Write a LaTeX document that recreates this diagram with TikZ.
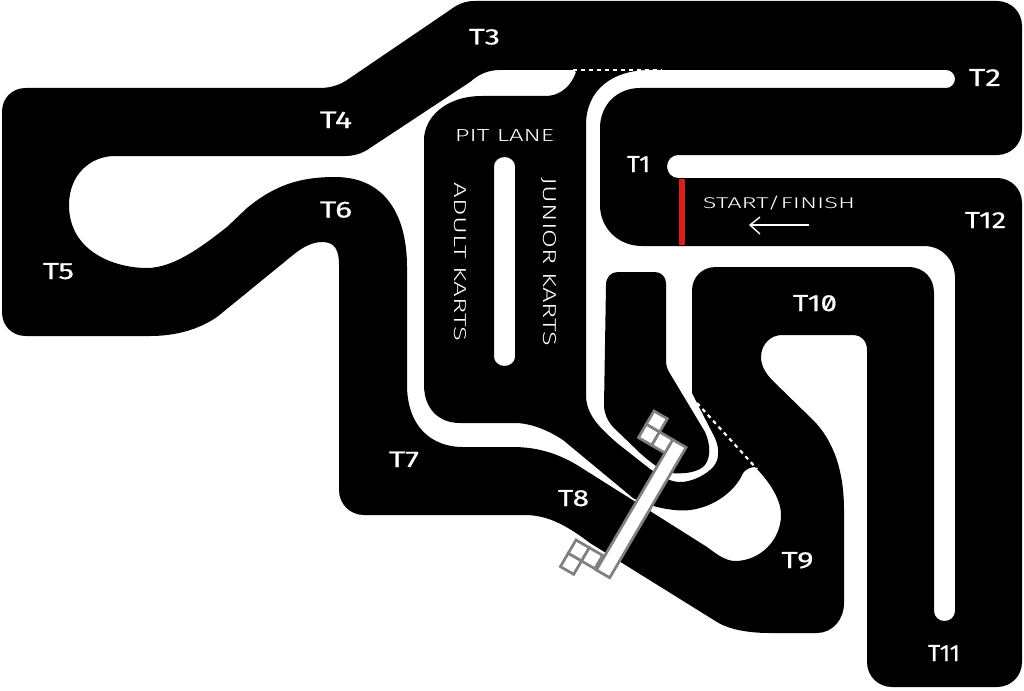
\documentclass[tikz,border=0pt]{standalone}
\usepackage{fontspec}
\usepackage{graphicx}
\newfontfamily\tlabfont{Fira Sans}[Numbers=SlashedZero,FakeBold=0.6]
\newfontfamily\thinlabfont{Fira Sans Light}
\newcommand{\lab}[3]{\resizebox{#1pt}{#2pt}{\tlabfont #3}}
\newcommand{\thinlab}[3]{\resizebox{#1pt}{#2pt}{\thinlabfont #3}}
\definecolor{bridgegrey}{HTML}{808080}
\definecolor{startred}{HTML}{DA1F1F}
\tikzset{
  label text/.style={text=white,inner sep=0pt,outer sep=0pt,anchor=base},
  bridgepart/.style={fill=white,draw=bridgegrey,line width=2.7pt,line join=miter},
  dashline/.style={draw=white,line width=2.2pt,dash pattern=on 4pt off 4pt},
}
\begin{document}
\begin{tikzpicture}[x=1pt,y=-1pt]
\useasboundingbox (0,0) rectangle (1024,690);
\fill[white] (0,0) rectangle (1024,690);
% track surface: outer contour, holes by even-odd rule
\fill[black,even odd rule]
 % outer contour
 (475,1) -- (997,1) .. controls (1011,1) and (1022,12) .. (1022,26)
 -- (1022,130) .. controls (1022,144) and (1011,155) .. (997,155)
 -- (678,155) .. controls (672,155) and (667,160) .. (667,166.5)
 .. controls (667,173) and (672,178) .. (678,178)
 -- (997,178) .. controls (1011,178) and (1022,189) .. (1022,203)
 -- (1022,662) .. controls (1022,676) and (1011,687) .. (997,687)
 -- (892,687) .. controls (878,687) and (867,676) .. (867,662)
 -- (867,350) .. controls (867,341) and (861,335) .. (854,335)
 -- (782,335) .. controls (770,335) and (761,345) .. (761,357)
 .. controls (761,366) and (766,374) .. (773,381)
 -- (813,420) .. controls (833,440) and (844,470) .. (844,510)
 -- (844,603) .. controls (844,620) and (832,633) .. (817,633)
 -- (770,633) .. controls (750,633) and (730,630) .. (717,622)
 -- (590,543) .. controls (570,528) and (550,515) .. (525,515)
 -- (364,515) .. controls (350,515) and (339,504) .. (339,490)
 -- (339,265) .. controls (339,250) and (335,242) .. (322,242)
 .. controls (310,242) and (299,250) .. (293,255)
 -- (217,317) .. controls (195,332) and (170,336) .. (150,336)
 -- (26,336) .. controls (12,336) and (2,326) .. (2,312)
 -- (2,112) .. controls (2,98) and (12,88) .. (26,88)
 -- (320,88) .. controls (332,88) and (342,84) .. (350,78)
 -- (450,10) .. controls (458,4) and (465,1) .. (475,1) -- cycle
 % loop, channel, wedge, leaf
 (115,156) -- (345,156) .. controls (355,156) and (363,153) .. (370,148)
 -- (470,82) .. controls (478,75) and (487,70) .. (500,70)
 -- (573,70) -- (576,72) .. controls (572,84) and (562,96) .. (545,96)
 -- (482,96) .. controls (445,96) and (424,118) .. (424,140)
 -- (424,385) .. controls (424,408) and (438,423) .. (460,423)
 -- (515,423) .. controls (530,423) and (548,430) .. (563,440)
 -- (633,498) .. controls (650,507) and (675,512) .. (690,510)
 .. controls (715,507) and (736,490) .. (743,473)
 .. controls (746,469) and (751,467) .. (755,467)
 .. controls (766,478) and (781,497) .. (781,515)
 .. controls (781,540) and (760,561) .. (735,561)
 .. controls (725,561) and (715,553) .. (707,547)
 -- (577,465) .. controls (560,455) and (540,447) .. (513,447)
 -- (463,447) .. controls (430,447) and (407,425) .. (407,385)
 -- (407,267) .. controls (407,215) and (385,177) .. (335,177)
 .. controls (300,177) and (275,185) .. (247,208)
 -- (227,227) .. controls (205,244) and (175,268) .. (147,268)
 .. controls (115,268) and (69,252) .. (69,205)
 .. controls (69,175) and (90,156) .. (115,156) -- cycle
 % pit side road, pit-straight slot and T11 slot
 (650,70) -- (946,70) .. controls (951,70) and (955,74) .. (955,79)
 .. controls (955,84) and (951,88) .. (946,88)
 -- (640,88) .. controls (617,88) and (600,105) .. (600,128)
 -- (600,205) .. controls (600,228) and (618,246) .. (642,246)
 -- (924,246) .. controls (942,246) and (955,260) .. (955,278)
 -- (955,611) .. controls (955,617) and (950,621) .. (944.5,621)
 .. controls (939,621) and (934,617) .. (934,611)
 -- (934,293) .. controls (934,278) and (924,267) .. (908,267)
 -- (716,267) .. controls (702,267) and (692,277) .. (692,291)
 -- (692,393) -- (697,403)
 -- (715,438) .. controls (720,450) and (720,462) .. (710,470)
 .. controls (702,477) and (690,482) .. (680,482)
 .. controls (670,482) and (660,476) .. (650,469)
 -- (617,443) .. controls (600,428) and (586,415) .. (586,395)
 -- (586,125) .. controls (586,90) and (612,70) .. (650,70) -- cycle
 % middle block
 (606,285) .. controls (606,277) and (611,272) .. (618,272)
 -- (655,272) .. controls (661,272) and (666,277) .. (666,283)
 -- (666,360) .. controls (666,365) and (667,368) .. (669,372)
 -- (705,432) .. controls (711,445) and (711,460) .. (703,467)
 .. controls (695,473) and (683,474) .. (670,473)
 .. controls (660,470) and (650,462) .. (640,453)
 -- (613,427) .. controls (607,420) and (604,413) .. (604,405) -- cycle
 % pit divider
 (494,166) .. controls (494,161) and (499,157) .. (504.5,157)
 .. controls (510,157) and (515,161) .. (515,166)
 -- (515,357) .. controls (515,362) and (510,366) .. (504.5,366)
 .. controls (499,366) and (494,362) .. (494,357) -- cycle;
% dashed lines
\coordinate (dashAstart) at (573,70);
\coordinate (dashAend) at (662,70);
\coordinate (dashBstart) at (697,403);
\coordinate (dashBend) at (757,469);
\draw[dashline] (dashAstart) -- (dashAend);
\draw[dashline] (dashBstart) -- (dashBend);
% start line
\coordinate (redtop) at (682,179);
\coordinate (redbot) at (682,245);
\draw[startred,line width=5.5pt] (redtop) -- (redbot);
% direction arrow
\coordinate (arrowtail) at (809,225);
\coordinate (arrowtip) at (750,225);
\coordinate (arrowwa) at (760,217);
\coordinate (arrowwb) at (760,234);
\draw[white,line width=1.4pt] (arrowtail) -- (arrowtip);
\draw[white,line width=1.4pt,line join=miter] (arrowwa) -- (arrowtip) -- (arrowwb);
% bridge
\draw[bridgepart] (654,411) -- (667.3,418.7) -- (659.5,432) -- (646.2,424.3) -- cycle;
\draw[bridgepart] (646.2,424.3) -- (659.5,432) -- (651.7,445.3) -- (638.4,437.6) -- cycle;
\draw[bridgepart] (659.5,432) -- (672.8,439.7) -- (665,453) -- (651.7,445.3) -- cycle;
\draw[bridgepart] (576,540) -- (589.3,547.7) -- (581.5,561) -- (568.2,553.3) -- cycle;
\draw[bridgepart] (568.2,553.3) -- (581.5,561) -- (573.7,574.3) -- (560.4,566.6) -- cycle;
\draw[bridgepart] (589.3,547.7) -- (602.6,555.4) -- (594.8,568.7) -- (581.5,561) -- cycle;
\draw[bridgepart] (672.8,439.7) -- (686.1,447.4) -- (609.7,577.7) -- (596.4,570) -- cycle;
% labels
\node[label text] (t1) at (638.5,172) {\lab{23}{16}{T1}};
\node[label text] (t2) at (985,86) {\lab{32}{17}{T2}};
\node[label text] (t3) at (484.5,44.5) {\lab{31}{15.5}{T3}};
\node[label text] (t4) at (336,128) {\lab{32}{16.5}{T4}};
\node[label text] (t5) at (58.5,279) {\lab{31}{16}{T5}};
\node[label text] (t6) at (336,217.5) {\lab{32}{16}{T6}};
\node[label text] (t7) at (404,467) {\lab{30}{15.5}{T7}};
\node[label text] (t8) at (573.5,506) {\lab{31}{16}{T8}};
\node[label text] (t9) at (797.5,568) {\lab{32}{16}{T9}};
\node[label text] (t10) at (815,311) {\lab{44}{16}{T10}};
\node[label text] (t11) at (944,661) {\lab{32}{16}{T11}};
\node[label text] (t12) at (985.5,228) {\lab{41}{16}{T12}};
\node[label text] (pit) at (504.5,141) {\thinlab{99}{12}{PIT LANE}};
\node[label text] (sf) at (779,208) {\thinlab{152}{12.5}{START/FINISH}};
\node[label text,rotate=-90] (adult) at (454,262) {\thinlab{158}{12}{ADULT KARTS}};
\node[label text,rotate=-90] (junior) at (543,262) {\thinlab{168}{13}{JUNIOR KARTS}};
\end{tikzpicture}
\end{document}
